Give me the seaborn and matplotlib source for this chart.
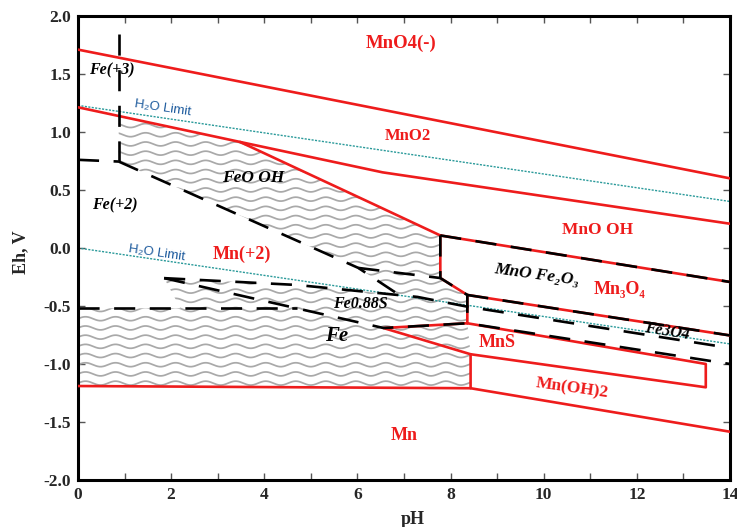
import numpy as np
import matplotlib
matplotlib.use("Agg")
import matplotlib.pyplot as plt
from matplotlib.patches import Polygon
from matplotlib.ticker import MultipleLocator
import seaborn as sns

# ---------------- Mn-S-H2O boundaries (solid red) ----------------
mno4_mno2_ph = [0, 14]
mno4_mno2_eh = [1.71, 0.60]
mno2_low_ph = [0, 3.48, 6.54, 14]
mno2_low_eh = [1.213, 0.914, 0.652, 0.209]
mn2_mnooh_ph = [3.48, 6.28, 7.78]
mn2_mnooh_eh = [0.914, 0.39, 0.108]
mnooh_mn3o4_ph = [7.78, 14]
mnooh_mn3o4_eh = [0.108, -0.293]
jac_left_ph = [7.78, 7.78, 8.36, 8.36]
jac_left_eh = [0.108, -0.259, -0.405, -0.649]
mn3o4_mns_ph = [8.36, 14]
mn3o4_mns_eh = [-0.405, -0.754]
mns_box_ph = [8.36, 13.48, 13.48, 8.43]
mns_box_eh = [-0.649, -1.0, -1.201, -0.916]
mns_left_ph = [8.36, 6.56, 8.43, 8.43]
mns_left_eh = [-0.649, -0.69, -0.916, -1.209]
mn_floor_ph = [0, 8.43, 14]
mn_floor_eh = [-1.19, -1.209, -1.584]

# ---------------- Fe-S-H2O boundaries (dashed black) ----------------
fe3_vert_ph = [0.875, 0.875]
fe3_vert_eh = [0.745, 1.856]
fe3_fe2_ph = [0, 0.875]
fe3_fe2_eh = [0.76, 0.745]
feooh_fe2_ph = [0.875, 6.02, 6.9]
feooh_fe2_eh = [0.745, -0.172, -0.406]
feooh_side_ph = [6.02, 7.78]
feooh_side_eh = [-0.172, -0.259]
fes_top_ph = [1.85, 4.71, 7.29, 8.36, 14]
fes_top_eh = [-0.26, -0.319, -0.422, -0.506, -0.862]
fes_low_ph = [1.85, 6.56, 8.36, 14]
fes_low_eh = [-0.26, -0.69, -0.649, -1.0]
fe2_fe_ph = [0, 4.70]
fe2_fe_eh = [-0.52, -0.52]

# outline of the shaded iron solids (FeOOH, Fe0.88S, Fe)
solid_ph = [0.875, 3.48, 6.28, 7.78, 7.78, 8.36, 8.36, 8.43, 8.43, 0, 0,
            2.2, 1.85, 4.71, 6.9, 6.02, 0.875]
solid_eh = [1.138, 0.914, 0.39, 0.108, -0.259, -0.405, -0.649, -0.916, -1.209,
            -1.19, -0.52, -0.52, -0.26, -0.319, -0.406, -0.172, 0.745]

# water stability limits
water_ph = [0, 14]
o2_eh = [1.229, 0.401]
h2_eh = [0.0, -0.827]

sns.set_theme(style="white")
plt.rcParams["font.family"] = ["Liberation Serif", "DejaVu Serif"]
plt.rcParams["axes.unicode_minus"] = False

fig = plt.figure(figsize=(7.37, 5.27), dpi=100)
ax = fig.add_axes([0.1058, 0.0892, 0.8847, 0.8805])
ax.set_xlim(0, 14)
ax.set_ylim(-2, 2)

# wavy shading of the iron solid fields
shade = Polygon(list(zip(solid_ph, solid_eh)), closed=True,
                facecolor="none", edgecolor="none", transform=ax.transData)
ax.add_patch(shade)
xs = np.linspace(0, 8.7, 900)
for y0 in np.arange(-1.165, 1.25, 0.0793):
    wave, = ax.plot(xs, y0 + 0.017 * np.sin(2 * np.pi * xs / 0.645),
                    color="#a9a9a9", lw=1.25, zorder=1)
    wave.set_clip_path(shade)

teal = "#2a9a9a"
for eh in (o2_eh, h2_eh):
    sns.lineplot(x=water_ph, y=eh, ax=ax, color=teal, lw=1.0,
                 linestyle=(0, (1.5, 1.0)), sort=False, estimator=None, zorder=2)

red = "#ee1c1c"
mn_lines = [
    (mno4_mno2_ph, mno4_mno2_eh), (mno2_low_ph, mno2_low_eh),
    (mn2_mnooh_ph, mn2_mnooh_eh), (mnooh_mn3o4_ph, mnooh_mn3o4_eh),
    (jac_left_ph, jac_left_eh), (mn3o4_mns_ph, mn3o4_mns_eh),
    (mns_box_ph, mns_box_eh), (mns_left_ph, mns_left_eh),
    (mn_floor_ph, mn_floor_eh),
]
for px, py in mn_lines:
    sns.lineplot(x=px, y=py, ax=ax, color=red, lw=1.9, sort=False,
                 estimator=None, zorder=3)

fe_lines = [
    (fe3_vert_ph, fe3_vert_eh), (fe3_fe2_ph, fe3_fe2_eh),
    (feooh_fe2_ph, feooh_fe2_eh), (feooh_side_ph, feooh_side_eh),
    (fes_top_ph, fes_top_eh), (fes_low_ph, fes_low_eh),
    (fe2_fe_ph, fe2_fe_eh), (mnooh_mn3o4_ph, mnooh_mn3o4_eh),
    (jac_left_ph, jac_left_eh), (mn3o4_mns_ph, mn3o4_mns_eh),
]
for px, py in fe_lines:
    sns.lineplot(x=px, y=py, ax=ax, color="black", lw=1.9,
                 linestyle=(0, (8, 5.5)), sort=False, estimator=None, zorder=4)

# field labels
mn_kw = dict(color=red, fontweight="bold", ha="center", va="center", zorder=6)
ax.text(6.93, 1.76, "MnO4(-)", fontsize=13.5, **mn_kw)
ax.text(7.08, 0.966, "MnO2", fontsize=12, **mn_kw)
ax.text(11.16, 0.155, "MnO OH", fontsize=12.5, **mn_kw)
ax.text(3.52, -0.056, "Mn(+2)", fontsize=13, **mn_kw)
ax.text(11.63, -0.362, "Mn₃O₄", fontsize=13, **mn_kw)
ax.text(8.99, -0.819, "MnS", fontsize=13, **mn_kw)
ax.text(10.62, -1.216, "Mn(OH)2", fontsize=12.5, rotation=-8, **mn_kw)
ax.text(7.01, -1.62, "Mn", fontsize=13, **mn_kw)

fe_kw = dict(color="black", fontweight="bold", fontstyle="italic",
             ha="center", va="center", zorder=6)
ax.text(0.72, 1.534, "Fe(+3)", fontsize=11.5, **fe_kw)
ax.text(0.80, 0.366, "Fe(+2)", fontsize=11.5, **fe_kw)
ax.text(3.76, 0.603, "FeO OH", fontsize=12.5, **fe_kw)
ax.text(9.85, -0.233, "MnO Fe₂O₃", fontsize=12.5, rotation=-8, **fe_kw)
ax.text(6.06, -0.483, "Fe0.88S", fontsize=11.5, **fe_kw)
ax.text(5.55, -0.76, "Fe", fontsize=15, **fe_kw)
ax.text(12.65, -0.724, "Fe3O4", fontsize=11.5, rotation=-9, **fe_kw)

h2o_kw = dict(color="#1f5c9e", fontsize=9.5, family=["Liberation Sans", "DejaVu Sans"],
              ha="center", va="center", rotation=-8.4, zorder=6)
ax.text(1.83, 1.203, "H₂O Limit", **h2o_kw)
ax.text(1.70, -0.047, "H₂O Limit", **h2o_kw)

# axes frame and ticks
for side in ax.spines.values():
    side.set_linewidth(2.2)
    side.set_color("black")
ax.xaxis.set_major_locator(MultipleLocator(2))
ax.xaxis.set_minor_locator(MultipleLocator(1))
ax.yaxis.set_major_locator(MultipleLocator(0.5))
ax.tick_params(which="both", direction="in", top=True, right=True,
               bottom=True, left=True, color="#555555")
ax.tick_params(which="major", length=5, width=1.0, labelsize=12.5, pad=5)
ax.tick_params(which="minor", length=5, width=1.0)
ax.set_yticks(np.arange(-2.0, 2.01, 0.5))
ax.set_yticklabels([f"{v:.1f}" for v in np.arange(-2.0, 2.01, 0.5)])
for lab in ax.get_xticklabels() + ax.get_yticklabels():
    lab.set_fontweight("bold")
ax.set_xlabel("pH", fontsize=13, fontweight="bold")
ax.set_ylabel("Eh, V", fontsize=13, fontweight="bold")
ax.xaxis.set_label_coords(0.513, -0.066)
ax.yaxis.set_label_coords(-0.074, 0.49)
ax.grid(False)

fig.savefig("out.png", dpi=100)
